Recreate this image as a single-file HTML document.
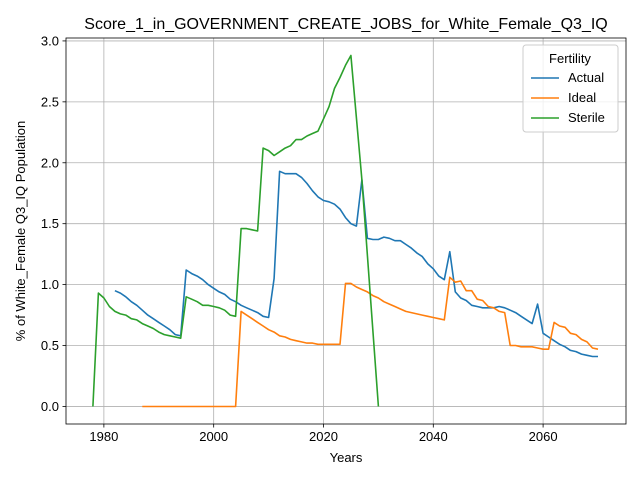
<!DOCTYPE html>
<html><head><meta charset="utf-8"><style>body{margin:0;background:#fff}svg{display:block;font-family:"Liberation Sans","DejaVu Sans",sans-serif}</style></head>
<body>
<svg id="chart" width="640" height="480"></svg>
<script>
const actualStart = 1982;
const actualValues = [.95,.93,.90,.86,.83,.79,.75,.72,.69,.66,.63,.59,.58,1.12,1.09,1.07,1.04,1.00,.97,.94,.92,.88,.86,.83,.81,.79,.77,.74,.73,1.05,1.93,1.91,1.91,1.91,1.88,1.83,1.77,1.72,1.69,1.68,1.66,1.62,1.55,1.50,1.48,1.86,1.38,1.37,1.37,1.39,1.38,1.36,1.36,1.33,1.30,1.26,1.23,1.17,1.13,1.07,1.04,1.27,.94,.89,.87,.83,.82,.81,.81,.81,.82,.81,.79,.77,.74,.71,.68,.84,.60,.57,.54,.51,.49,.46,.45,.43,.42,.41,.41];
const idealStart = 1987;
const idealValues = [0,0,0,0,0,0,0,0,0,0,0,0,0,0,0,0,0,0,.78,.75,.72,.69,.66,.63,.61,.58,.57,.55,.54,.53,.52,.52,.51,.51,.51,.51,.51,1.01,1.01,.98,.96,.94,.91,.89,.86,.84,.82,.80,.78,.77,.76,.75,.74,.73,.72,.71,1.06,1.02,1.03,.95,.95,.88,.87,.82,.81,.78,.77,.50,.50,.49,.49,.49,.48,.47,.47,.69,.66,.65,.60,.59,.55,.53,.48,.47];
const sterileStart = 1978;
const sterileValues = [0,.93,.89,.82,.78,.76,.75,.72,.71,.68,.66,.64,.61,.59,.58,.57,.56,.90,.88,.86,.83,.83,.82,.81,.79,.75,.74,1.46,1.46,1.45,1.44,2.12,2.10,2.06,2.09,2.12,2.14,2.19,2.19,2.22,2.24,2.26,2.36,2.46,2.61,2.70,2.80,2.88,2.37,1.86,1.24,.62,0];
const xTicks = [1980,2000,2020,2040,2060];
const yTicks = [0,0.5,1.0,1.5,2.0,2.5,3.0];

const L=66,R=626,T=38,B=424;
const x0=1973.1,x1=2075.1,y0=-0.144,y1=3.024;
const sx=v=>L+(v-x0)/(x1-x0)*(R-L);
const sy=v=>B-(v-y0)/(y1-y0)*(B-T);
const svg=document.getElementById('chart');
const NS='http://www.w3.org/2000/svg';
function mk(tag,attrs,parent){const e=document.createElementNS(NS,tag);for(const k in attrs)e.setAttribute(k,attrs[k]);(parent||svg).appendChild(e);return e;}

const grid=mk('g',{});


xTicks.forEach(t=>{
  mk('line',{x1:sx(t),x2:sx(t),y1:T,y2:B,stroke:'#b0b0b0','stroke-width':0.8},grid);
  mk('line',{x1:sx(t),x2:sx(t),y1:B,y2:B+3.5,stroke:'#000','stroke-width':0.8});
  const tx=mk('text',{x:sx(t),y:B+17,'text-anchor':'middle','font-size':13,fill:'#000'});
  
  
  tx.textContent=t;
});
yTicks.forEach(t=>{
  mk('line',{x1:L,x2:R,y1:sy(t),y2:sy(t),stroke:'#b0b0b0','stroke-width':0.8},grid);
  mk('line',{x1:L-3.5,x2:L,y1:sy(t),y2:sy(t),stroke:'#000','stroke-width':0.8});
  const tx=mk('text',{x:L-7,y:sy(t)+4.5,'text-anchor':'end','font-size':13,fill:'#000'});
  
  
  tx.textContent=t.toFixed(1);
});

function series(start,vals,color,name){
  const pts=vals.map((v,i)=>sx(start+i).toFixed(1)+','+sy(v).toFixed(1)).join(' ');
  const p=mk('polyline',{points:pts,fill:'none',stroke:color,'stroke-width':1.6,'stroke-linejoin':'round'});
  
  
}
series(actualStart,actualValues,'#1f77b4','actual-line');
series(idealStart,idealValues,'#ff7f0e','ideal-line');
series(sterileStart,sterileValues,'#2ca02c','sterile-line');

const frame=mk('rect',{x:L,y:T,width:R-L,height:B-T,fill:'none',stroke:'#000','stroke-width':0.8});



const title=mk('text',{x:(L+R)/2,y:29,'text-anchor':'middle','font-size':16,fill:'#000'});


title.textContent='Score_1_in_GOVERNMENT_CREATE_JOBS_for_White_Female_Q3_IQ';
const xl=mk('text',{x:(L+R)/2,y:462,'text-anchor':'middle','font-size':13,fill:'#000'});


xl.textContent='Years';
const yl=mk('text',{x:0,y:0,'text-anchor':'middle','font-size':13,fill:'#000',transform:'translate(25,'+((T+B)/2)+') rotate(-90)'});


yl.textContent='% of White_Female Q3_IQ Population';

const lg=mk('g',{});


mk('rect',{x:523,y:45,width:95,height:87,rx:3,fill:'#fff','fill-opacity':0.8,stroke:'#ccc'},lg);
const lt=mk('text',{x:570,y:63,'text-anchor':'middle','font-size':13,fill:'#000'},lg);
lt.textContent='Fertility';
[['Actual','#1f77b4'],['Ideal','#ff7f0e'],['Sterile','#2ca02c']].forEach((d,i)=>{
  const y=82+i*20;
  const e=mk('g',{},lg);
  
  
  mk('line',{x1:531,x2:559,y1:y-4,y2:y-4,stroke:d[1],'stroke-width':1.6},e);
  const t=mk('text',{x:568,y:y,'font-size':13,fill:'#000'},e);
  t.textContent=d[0];
});
</script>
</body></html>
